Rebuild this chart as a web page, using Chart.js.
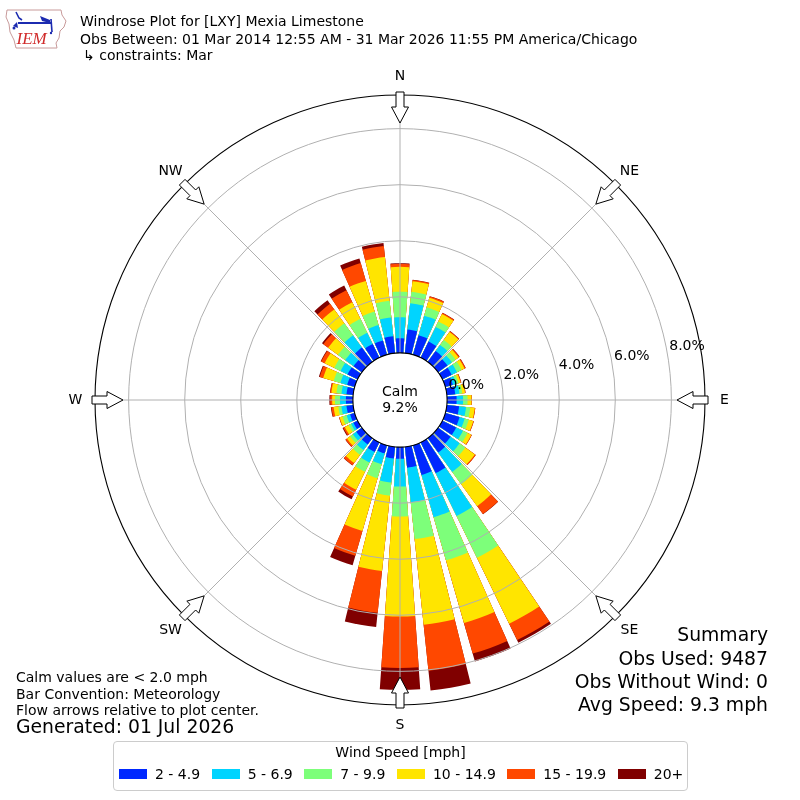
<!DOCTYPE html>
<html>
<head>
<meta charset="utf-8">
<script src="https://cdn.jsdelivr.net/npm/chart.js@4.4.1/dist/chart.umd.min.js"></script>
<style>
  html, body { margin: 0; padding: 0; background: #ffffff; }
  #wrap { position: relative; width: 800px; height: 800px; overflow: hidden; font-family: "DejaVu Sans", sans-serif; color: #000; }
  #chartBox { position: absolute; left: 0; top: 0; width: 800px; height: 800px; }
  .t { position: absolute; white-space: nowrap; line-height: 1; font-size: 14px; }
  .big { font-size: 18.8px; }
  .r { text-align: right; }
  #legend { position: absolute; left: 113px; top: 741px; width: 573px; height: 48px; border: 1px solid #cccccc; border-radius: 4px; background: #fff; }
  #legTitle { position: absolute; left: 0; width: 100%; text-align: center; top: 3.2px; }
  #legRow { position: absolute; left: 5px; top: 25.2px; display: flex; align-items: center; height: 14px; }
  .sw { width: 28px; height: 10px; margin-right: 8px; }
  .lab { font-size: 14px; line-height: 1; margin-right: 11.5px; white-space: nowrap; }
</style>
</head>
<body>
<div id="wrap">
  <div id="chartBox"><canvas id="c"></canvas></div>

  <svg style="position:absolute;left:4px;top:7px" width="64" height="44" viewBox="0 0 64 44">
    <path d="M3 3 L57 3 L58 8 L62 14 L60 20 L56 24 L55 31 L52 36 L53 41 L12 41 L10 33 L6 25 L5 17 L2 10 Z" fill="none" stroke="#c89a9a" stroke-width="1"/>
    <path d="M14 16 L47 16" stroke="#1c2bb0" stroke-width="2.2"/>
    <path d="M12 5 L15 11 L18 13" stroke="#1c2bb0" stroke-width="1.6" fill="none"/>
    <path d="M36 9 L46 13 L46 16 L38 14 Z" fill="#1c2bb0"/>
    <path d="M47 12 L48 25" stroke="#1c2bb0" stroke-width="1.6"/>
    <path d="M9 19 L13 15 L14 21 Z" fill="#1c2bb0"/>
    <circle cx="10" cy="21" r="1.5" fill="#1c2bb0"/>
    <circle cx="47" cy="26" r="1.2" fill="#1c2bb0"/>
    <text x="12.5" y="36.5" font-family="Liberation Serif, serif" font-style="italic" font-size="17" fill="#d02a2a">IEM</text>
  </svg>

  <div class="t" style="left:80px;top:14.2px">Windrose Plot for [LXY] Mexia Limestone</div>
  <div class="t" style="left:80px;top:31.7px">Obs Between: 01 Mar 2014 12:55 AM - 31 Mar 2026 11:55 PM America/Chicago</div>
  <div class="t" style="left:83px;top:48.2px">↳ constraints: Mar</div>

  <div class="t" style="left:16px;top:670.2px">Calm values are &lt; 2.0 mph</div>
  <div class="t" style="left:16px;top:686.7px">Bar Convention: Meteorology</div>
  <div class="t" style="left:16px;top:703.2px">Flow arrows relative to plot center.</div>
  <div class="t big" style="left:16px;top:718.1px">Generated: 01 Jul 2026</div>

  <div class="t big r" style="right:32px;top:625.9px">Summary</div>
  <div class="t big r" style="right:32px;top:650px">Obs Used: 9487</div>
  <div class="t big r" style="right:32px;top:673px">Obs Without Wind: 0</div>
  <div class="t big r" style="right:32px;top:696px">Avg Speed: 9.3 mph</div>

  <div id="legend">
    <div id="legTitle" class="t" style="position:absolute">Wind Speed [mph]</div>
    <div id="legRow"></div>
  </div>
</div>

<script>
// ---------------- data ----------------
const directions = [0, 10, 20, 30, 40, 50, 60, 70, 80, 90, 100, 110, 120, 130, 140, 150, 160, 170,
                    180, 190, 200, 210, 220, 230, 240, 250, 260, 270, 280, 290, 300, 310, 320, 330, 340, 350];
const compassLabels = ['N', 'NE', 'E', 'SE', 'S', 'SW', 'W', 'NW'];
const speedBins = ['2 - 4.9', '5 - 6.9', '7 - 9.9', '10 - 14.9', '15 - 19.9', '20+'];
const binColors = ['#0028ff', '#00d4ff', '#7dff7a', '#ffe500', '#ff4800', '#800000'];
const calmPct = 9.2;
const tickValues = [0, 2, 4, 6, 8];
const rMin = -1.68;
const rMax = 9.2;

// percent of observations per direction, one array per speed bin
const spd2to5 = [0.52, 0.85, 0.72, 0.64, 0.48, 0.41, 0.37, 0.28, 0.30, 0.34, 0.44, 0.53, 0.55, 0.55, 0.64, 1.22, 1.10, 0.75,
                 0.42, 0.42, 0.30, 0.38, 0.28, 0.25, 0.17, 0.17, 0.24, 0.25, 0.24, 0.28, 0.40, 0.37, 0.63, 0.54, 0.53, 0.61];
const spd5to7 = [0.75, 0.94, 0.73, 0.58, 0.27, 0.20, 0.21, 0.12, 0.15, 0.23, 0.25, 0.19, 0.27, 0.40, 0.85, 1.70, 1.57, 1.24,
                 0.99, 0.86, 0.40, 0.42, 0.25, 0.15, 0.09, 0.13, 0.18, 0.21, 0.18, 0.25, 0.28, 0.37, 0.54, 0.45, 0.57, 0.67];
const spd7to10 = [0.91, 0.41, 0.31, 0.22, 0.22, 0.16, 0.18, 0.09, 0.10, 0.16, 0.15, 0.15, 0.18, 0.25, 0.54, 1.66, 1.60, 1.32,
                  1.07, 0.47, 0.52, 0.37, 0.21, 0.12, 0.10, 0.15, 0.11, 0.18, 0.18, 0.25, 0.25, 0.32, 0.53, 0.55, 0.50, 0.60];
const spd10to15 = [0.89, 0.38, 0.35, 0.29, 0.35, 0.13, 0.12, 0.08, 0.10, 0.14, 0.16, 0.17, 0.15, 0.42, 0.97, 2.62, 2.33, 3.07,
                   3.56, 2.70, 1.96, 0.71, 0.36, 0.14, 0.15, 0.11, 0.17, 0.10, 0.18, 0.39, 0.38, 0.43, 0.61, 0.66, 1.14, 1.57];
const spd15to20 = [0.10, 0.04, 0.05, 0.04, 0.03, 0.04, 0.04, 0.02, 0.02, 0.01, 0.02, 0.02, 0.02, 0.04, 0.35, 0.65, 1.13, 1.65,
                   1.84, 1.50, 0.92, 0.27, 0.10, 0.06, 0.06, 0.02, 0.08, 0.07, 0.04, 0.13, 0.14, 0.21, 0.25, 0.48, 0.66, 0.39];
const spd20plus = [0.03, 0.01, 0.01, 0.01, 0.01, 0.01, 0.01, 0.01, 0.00, 0.00, 0.00, 0.00, 0.00, 0.00, 0.01, 0.10, 0.29, 0.71,
                   0.78, 0.51, 0.35, 0.11, 0.01, 0.01, 0.03, 0.00, 0.02, 0.03, 0.01, 0.03, 0.02, 0.06, 0.16, 0.18, 0.17, 0.11];

const binSeries = [spd2to5, spd5to7, spd7to10, spd10to15, spd15to20, spd20plus];

// ---------------- geometry of the sectors (bar opening) ----------------
const BAR_DEG = 8, GAP_DEG = 2;
const seq = [];
seq.push({ d: 0, a: BAR_DEG / 2 });
seq.push({ d: -1, a: GAP_DEG });
for (let d = 1; d < directions.length; d++) {
  seq.push({ d: d, a: BAR_DEG });
  seq.push({ d: -1, a: GAP_DEG });
}
seq.push({ d: 0, a: BAR_DEG / 2 });

// stacked (cumulative) values per speed bin
const cumulative = [];
binSeries.forEach((arr, k) => {
  cumulative.push(arr.map((v, d) => (k === 0 ? 0 : cumulative[k - 1][d]) + v));
});

const datasets = binSeries.map((arr, k) => ({
  label: speedBins[k],
  data: seq.map(e => (e.d < 0 ? 0 : cumulative[k][e.d])),
  backgroundColor: seq.map(e => (e.d < 0 ? 'rgba(0,0,0,0)' : binColors[k])),
  borderWidth: 0,
  angle: (ctx) => seq[ctx.dataIndex].a
}));

// ---------------- decorations plugin ----------------
const decor = {
  id: 'decor',
  afterDraw(chart) {
    const s = chart.scales.r;
    const ctx = chart.ctx;
    const cx = s.xCenter, cy = s.yCenter, R = s.drawingArea;
    const r0 = s.getDistanceFromCenterForValue(0);
    ctx.save();
    // calm circle
    ctx.beginPath();
    ctx.arc(cx, cy, r0, 0, Math.PI * 2);
    ctx.fillStyle = '#ffffff';
    ctx.fill();
    ctx.lineWidth = 1.1;
    ctx.strokeStyle = '#000000';
    ctx.stroke();

    ctx.fillStyle = '#000';
    ctx.font = '14px "DejaVu Sans", sans-serif';
    ctx.textAlign = 'center';
    ctx.textBaseline = 'alphabetic';
    ctx.fillText('Calm', cx, cy - 4);
    ctx.fillText(calmPct.toFixed(1) + '%', cx, cy + 12);

    // radial tick labels
    ctx.textAlign = 'left';
    const a = 10 * Math.PI / 180;
    tickValues.forEach(v => {
      const r = s.getDistanceFromCenterForValue(v);
      ctx.fillText(v.toFixed(1) + '%', cx + 2 + r * Math.cos(a), cy - 3 - r * Math.sin(a));
    });

    // direction arrows and labels
    ctx.textAlign = 'center';
    ctx.textBaseline = 'middle';
    compassLabels.forEach((lab, i) => {
      const ang = s.getIndexAngle(i) - Math.PI / 2;
      const ux = Math.cos(ang), uy = Math.sin(ang);
      const px = -uy, py = ux;
      const pt = (r, w) => [cx + ux * r + px * w, cy + uy * r + py * w];
      const poly = [pt(R + 3, -4), pt(R - 12, -4), pt(R - 12, -8.5), pt(R - 28, 0),
                    pt(R - 12, 8.5), pt(R - 12, 4), pt(R + 3, 4)];
      ctx.beginPath();
      poly.forEach((p, j) => (j ? ctx.lineTo(p[0], p[1]) : ctx.moveTo(p[0], p[1])));
      ctx.closePath();
      ctx.fillStyle = '#ffffff';
      ctx.fill();
      ctx.lineWidth = 1;
      ctx.strokeStyle = '#000';
      ctx.stroke();
      const lp = s.getPointPosition(i, R + 19.5);
      ctx.fillStyle = '#000';
      ctx.fillText(lab, lp.x, lp.y + 0.5);
    });
    ctx.restore();
  }
};

new Chart(document.getElementById('c'), {
  type: 'polarArea',
  data: { labels: compassLabels, datasets: datasets },
  options: {
    responsive: true,
    maintainAspectRatio: false,
    animation: false,
    events: [],
    layout: { padding: { left: 95, right: 95, top: 95, bottom: 95 } },
    plugins: { legend: { display: false }, tooltip: { enabled: false }, title: { display: false } },
    scales: {
      r: {
        type: 'radialLinear',
        min: rMin,
        max: rMax,
        startAngle: 0,
        afterBuildTicks: (scale) => {
          scale.ticks = tickValues.concat([rMax]).map(v => ({ value: v }));
        },
        ticks: { display: false },
        pointLabels: { display: false },
        angleLines: { display: true, color: '#b0b0b0', lineWidth: 1 },
        grid: {
          circular: true,
          z: 1,
          color: (ctx) => {
            const v = ctx.tick ? ctx.tick.value : null;
            if (v === rMax) return '#000000';
            if (v === 0) return 'rgba(0,0,0,0)';
            return '#b0b0b0';
          },
          lineWidth: (ctx) => (ctx.tick && ctx.tick.value === rMax ? 1.1 : 1)
        }
      }
    }
  },
  plugins: [decor]
});

// ---------------- legend ----------------
const row = document.getElementById('legRow');
speedBins.forEach((lab, k) => {
  const sw = document.createElement('div');
  sw.className = 'sw';
  sw.style.background = binColors[k];
  const tx = document.createElement('div');
  tx.className = 'lab';
  tx.textContent = lab;
  row.appendChild(sw);
  row.appendChild(tx);
});
</script>
</body>
</html>
